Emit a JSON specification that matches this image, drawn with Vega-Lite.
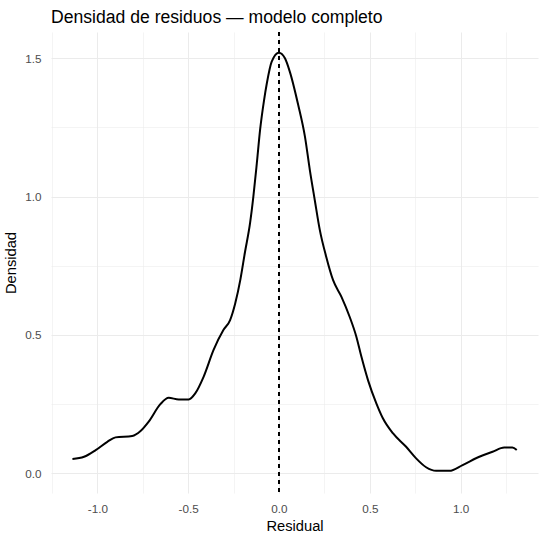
{
  "$schema": "https://vega.github.io/schema/vega-lite/v6.json",
  "autosize": "none",
  "padding": {"left": 51, "top": 32, "right": 10, "bottom": 46},
  "width": 487,
  "height": 461,
  "title": {
    "text": "Densidad de residuos — modelo completo",
    "anchor": "start",
    "frame": "group",
    "font": "Liberation Sans",
    "fontSize": 17.6,
    "fontWeight": "normal",
    "color": "#000000",
    "baseline": "alphabetic",
    "offset": -9
  },
  "data": {
    "values": [
      {"residual": -1.137, "densidad": 0.052},
      {"residual": -1.073, "densidad": 0.060},
      {"residual": -1.009, "densidad": 0.084},
      {"residual": -0.945, "densidad": 0.114},
      {"residual": -0.900, "densidad": 0.130},
      {"residual": -0.808, "densidad": 0.135},
      {"residual": -0.762, "densidad": 0.153},
      {"residual": -0.717, "densidad": 0.187},
      {"residual": -0.653, "densidad": 0.250},
      {"residual": -0.607, "densidad": 0.273},
      {"residual": -0.552, "densidad": 0.267},
      {"residual": -0.497, "densidad": 0.267},
      {"residual": -0.461, "densidad": 0.289},
      {"residual": -0.415, "densidad": 0.349},
      {"residual": -0.360, "densidad": 0.446},
      {"residual": -0.306, "densidad": 0.518},
      {"residual": -0.269, "densidad": 0.554},
      {"residual": -0.241, "densidad": 0.614},
      {"residual": -0.212, "densidad": 0.702},
      {"residual": -0.187, "densidad": 0.800},
      {"residual": -0.159, "densidad": 0.905},
      {"residual": -0.141, "densidad": 1.000},
      {"residual": -0.122, "densidad": 1.120},
      {"residual": -0.104, "densidad": 1.241},
      {"residual": -0.082, "densidad": 1.349},
      {"residual": -0.067, "densidad": 1.409},
      {"residual": -0.040, "densidad": 1.488},
      {"residual": 0.000, "densidad": 1.520},
      {"residual": 0.033, "densidad": 1.500},
      {"residual": 0.060, "densidad": 1.451},
      {"residual": 0.106, "densidad": 1.331},
      {"residual": 0.143, "densidad": 1.217},
      {"residual": 0.170, "densidad": 1.096},
      {"residual": 0.197, "densidad": 0.988},
      {"residual": 0.225, "densidad": 0.879},
      {"residual": 0.260, "densidad": 0.783},
      {"residual": 0.298, "densidad": 0.698},
      {"residual": 0.344, "densidad": 0.638},
      {"residual": 0.389, "densidad": 0.566},
      {"residual": 0.426, "densidad": 0.494},
      {"residual": 0.454, "densidad": 0.421},
      {"residual": 0.490, "densidad": 0.337},
      {"residual": 0.536, "densidad": 0.253},
      {"residual": 0.572, "densidad": 0.199},
      {"residual": 0.627, "densidad": 0.145},
      {"residual": 0.700, "densidad": 0.096},
      {"residual": 0.755, "densidad": 0.054},
      {"residual": 0.810, "densidad": 0.022},
      {"residual": 0.865, "densidad": 0.009},
      {"residual": 0.938, "densidad": 0.009},
      {"residual": 1.011, "densidad": 0.030},
      {"residual": 1.103, "densidad": 0.060},
      {"residual": 1.176, "densidad": 0.078},
      {"residual": 1.240, "densidad": 0.093},
      {"residual": 1.285, "densidad": 0.093},
      {"residual": 1.309, "densidad": 0.084}
    ]
  },
  "layer": [
    {
      "mark": {"type": "line", "color": "#000000", "strokeWidth": 2, "interpolate": "monotone"},
      "encoding": {
        "x": {
          "field": "residual",
          "type": "quantitative",
          "title": "Residual",
          "scale": {"domain": [-1.255, 1.426], "nice": false, "zero": false},
          "axis": {
            "values": [-1.25, -1, -0.75, -0.5, -0.25, 0, 0.25, 0.5, 0.75, 1, 1.25],
            "labelExpr": "abs(datum.value * 2 - round(datum.value * 2)) < 0.000001 ? (datum.value < 0 ? '-' + format(-datum.value, '.1f') : format(datum.value, '.1f')) : ''",
            "gridWidth": {"condition": {"test": "abs(datum.value * 2 - round(datum.value * 2)) < 0.000001", "value": 1.07}, "value": 0.53},
            "titlePadding": 4
          }
        },
        "y": {
          "field": "densidad",
          "type": "quantitative",
          "title": "Densidad",
          "scale": {"domain": [-0.071, 1.595], "nice": false, "zero": false},
          "axis": {
            "values": [0, 0.25, 0.5, 0.75, 1, 1.25, 1.5],
            "labelExpr": "abs(datum.value * 2 - round(datum.value * 2)) < 0.000001 ? format(datum.value, '.1f') : ''",
            "gridWidth": {"condition": {"test": "abs(datum.value * 2 - round(datum.value * 2)) < 0.000001", "value": 1.07}, "value": 0.53},
            "titlePadding": 6
          }
        }
      }
    },
    {
      "mark": {"type": "rule", "color": "#000000", "strokeWidth": 0.8, "strokeDash": [4, 4]},
      "encoding": {"x": {"datum": 0}}
    }
  ],
  "config": {
    "view": {"stroke": null},
    "font": "Liberation Sans",
    "axis": {
      "domain": false,
      "ticks": false,
      "tickSize": 0,
      "grid": true,
      "gridColor": "#EBEBEB",
      "labelFont": "Liberation Sans",
      "labelFontSize": 11.7,
      "labelColor": "#4D4D4D",
      "labelPadding": 10,
      "titleFont": "Liberation Sans",
      "titleFontSize": 14.7,
      "titleFontWeight": "normal",
      "titleColor": "#000000"
    },
    "axisY": {"labelPadding": 10}
  }
}
